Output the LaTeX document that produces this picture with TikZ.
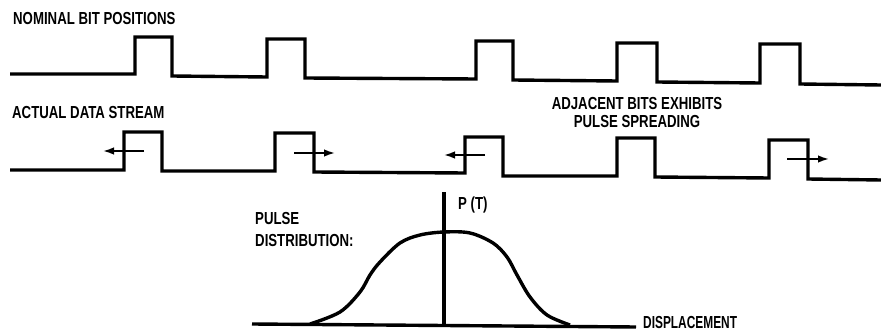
\documentclass[tikz,border=0pt]{standalone}
\usepackage{fontspec}
\setmainfont{Liberation Sans}[FakeStretch=0.76]
\usetikzlibrary{arrows.meta}
\tikzset{
  wave/.style={line width=3.4pt, line join=miter},
  arr/.style={line width=1.7pt, -{Latex[length=11pt,width=7.5pt]}},
  lbl/.style={font=\bfseries\fontsize{17.4}{18}\selectfont, inner sep=0pt, anchor=base west},
  lblc/.style={lbl, anchor=base},
}
\begin{document}
\begin{tikzpicture}[x=1pt,y=-1pt]
\useasboundingbox (0,0) rectangle (881,331);
% labels
\node[lbl] (nom) at (13,25) {NOMINAL BIT POSITIONS};
\node[lbl] (act) at (12,119) {ACTUAL DATA STREAM};
\node[lblc] (adj1) at (637,110) {ADJACENT BITS EXHIBITS};
\node[lblc] (adj2) at (637,128) {PULSE SPREADING};
\node[lbl] (pt) at (458,210) {P (T)};
\node[lbl] (pul) at (255,225) {PULSE};
\node[lbl] (dist) at (255,247) {DISTRIBUTION:};
\node[lbl, xscale=0.9, transform shape] (disp) at (643,328.5) {DISPLACEMENT};
% nominal bit positions
\draw[wave] (10,74) -- (135,74) -- (135,37) -- (172,37) -- (172,76) -- (267,77) -- (267,39) -- (305,39) -- (305,78)
  -- (476,79) -- (476,41) -- (513,41) -- (513,80) -- (617,81) -- (617,43) -- (657,43) -- (657,82)
  -- (760,83) -- (760,44) -- (800,44) -- (800,84) -- (881,85);
% actual data stream
\draw[wave] (10,170) -- (124,170) -- (124,132) -- (162,132) -- (162,171) -- (275,171) -- (275,133) -- (314,133) -- (314,172)
  -- (465,173) -- (465,137) -- (503,137) -- (503,176) -- (617,176) -- (617,138) -- (655,138) -- (655,177)
  -- (769,178) -- (769,140) -- (808,140) -- (808,179) -- (881,180);
% arrows
\coordinate (a1s) at (144,151); \coordinate (a1e) at (103,151);
\coordinate (a2s) at (294,153); \coordinate (a2e) at (335,153);
\coordinate (a3s) at (485,155); \coordinate (a3e) at (444,155);
\coordinate (a4s) at (787,159); \coordinate (a4e) at (829,159);
\draw[arr] (a1s) -- (a1e);
\draw[arr] (a2s) -- (a2e);
\draw[arr] (a3s) -- (a3e);
\draw[arr] (a4s) -- (a4e);
% distribution
\coordinate (xl) at (252,324); \coordinate (xr) at (636,327);
\coordinate (yb) at (444,325); \coordinate (yt) at (444,192);
\draw[line width=3.4pt] (xl) -- (xr);
\draw[line width=3.2pt] (yb) -- (yt);
\draw[line width=3.4pt] plot[smooth, tension=0.55] coordinates {(310,324) (340,312) (360,292) (370,275) (380,262) (400,243) (420,235) (444,232) (470,233) (493,243) (507,257) (517,275) (530,297) (547,315) (570,325)};
\end{tikzpicture}
\end{document}
